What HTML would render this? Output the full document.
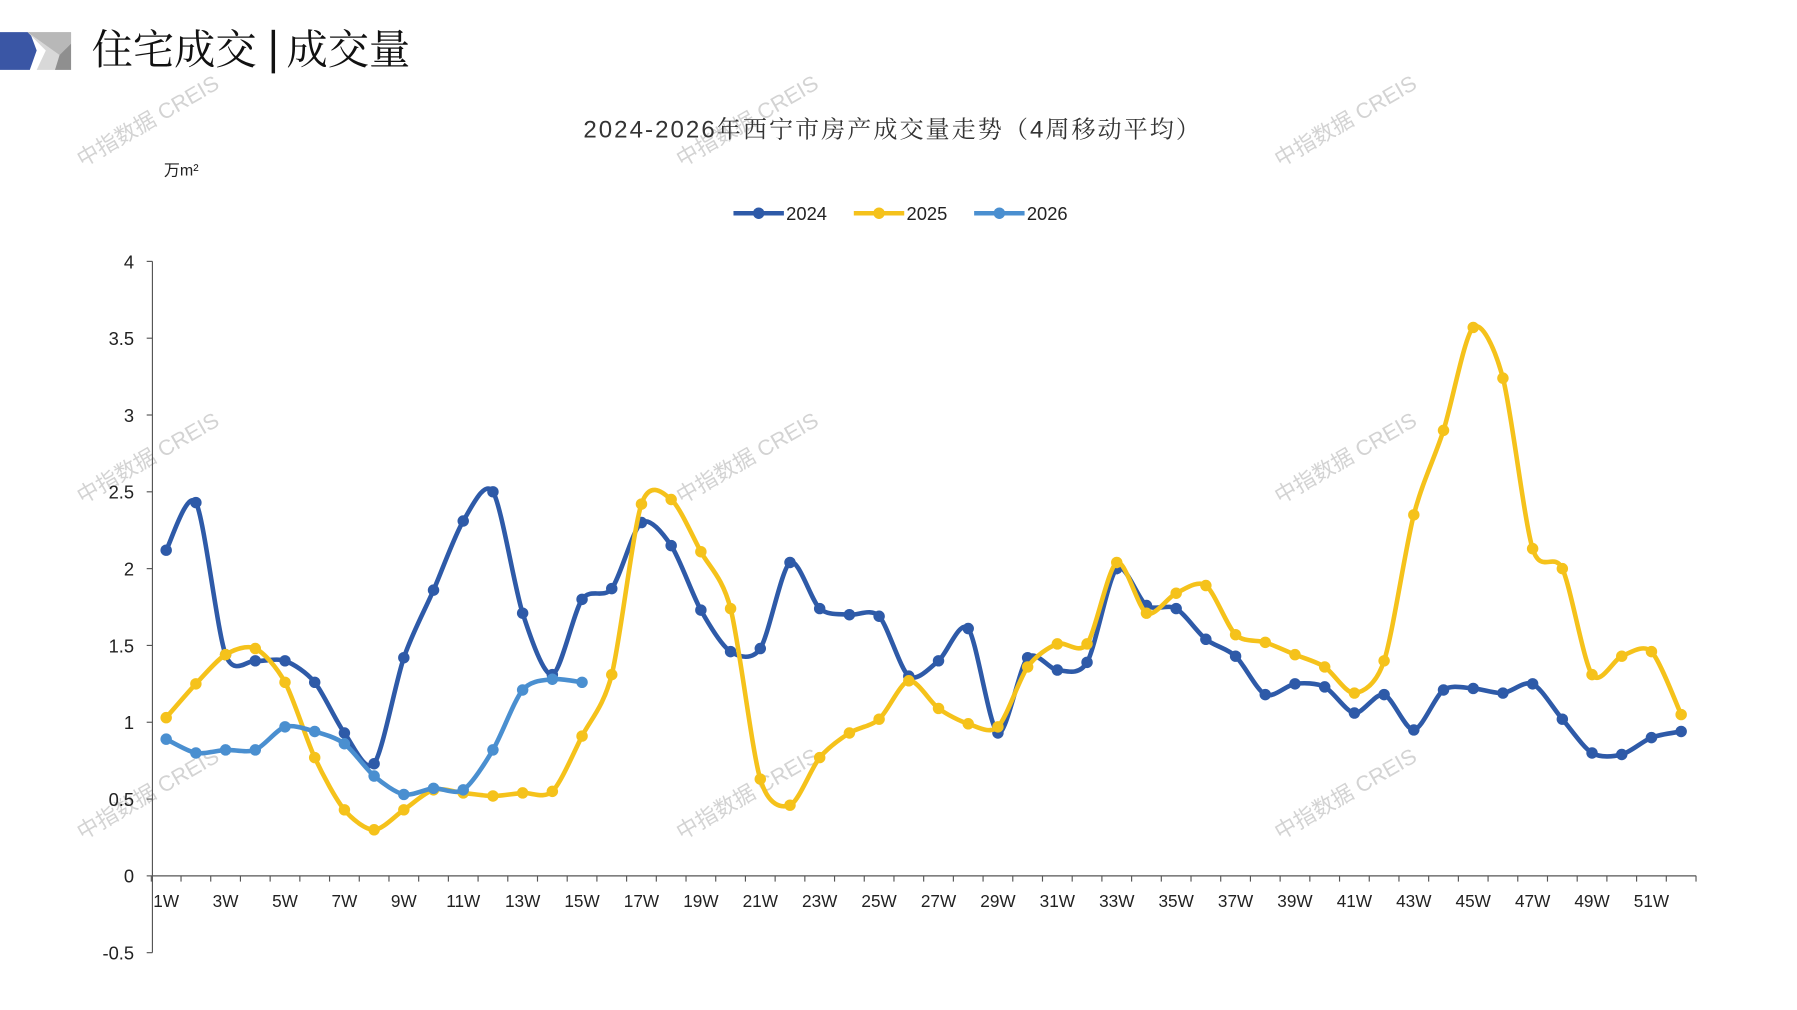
<!DOCTYPE html>
<html><head><meta charset="utf-8"><style>
html,body{margin:0;padding:0;background:#fff;}
svg{display:block;}
</style></head><body>
<svg id="s" width="1797" height="1010" viewBox="0 0 1568 881" preserveAspectRatio="none" xmlns="http://www.w3.org/2000/svg" font-family="'Liberation Sans','Noto Sans CJK SC',sans-serif">
<rect width="1568" height="881" fill="#fff"/>
<polygon points="0,28 26,28 32,44 26,61 0,61" fill="#3a56a5"/>
<polygon points="24,28 62,28 62,61 32,61 40,44" fill="#d8d8d8"/>
<polygon points="24,28 62,28 62,38 52,48" fill="#b8b8b8"/>
<polygon points="62,38 62,61 48,61 52,48" fill="#8f8f8f"/>
<text x="80" y="56" font-size="36" font-family="'Noto Serif CJK SC',serif" fill="#111">住宅成交</text>
<rect x="237" y="26" width="3" height="38" fill="#111"/>
<text x="250" y="56" font-size="36" font-family="'Noto Serif CJK SC',serif" fill="#111">成交量</text>
<g fill="#c8c8c8" font-size="19" opacity="0.8">
<text transform="translate(72,146) rotate(-30)">中指数据 CREIS</text>
<text transform="translate(595,146) rotate(-30)">中指数据 CREIS</text>
<text transform="translate(1117,146) rotate(-30)">中指数据 CREIS</text>
<text transform="translate(72,440) rotate(-30)">中指数据 CREIS</text>
<text transform="translate(595,440) rotate(-30)">中指数据 CREIS</text>
<text transform="translate(1117,440) rotate(-30)">中指数据 CREIS</text>
<text transform="translate(72,733) rotate(-30)">中指数据 CREIS</text>
<text transform="translate(595,733) rotate(-30)">中指数据 CREIS</text>
<text transform="translate(1117,733) rotate(-30)">中指数据 CREIS</text>
</g>
<text x="778" y="120" font-size="21" text-anchor="middle" fill="#333" textLength="538" font-family="'Liberation Sans','Noto Serif CJK SC',serif">2024-2026年西宁市房产成交量走势（4周移动平均）</text>
<text x="143" y="153" font-size="14" fill="#222">万m²</text>
<g font-size="16" fill="#222">
<line x1="640" y1="186" x2="684" y2="186" stroke="#2e5aa8" stroke-width="4"/><circle cx="662" cy="186" r="5" fill="#2e5aa8"/><text x="686" y="192">2024</text>
<line x1="745" y1="186" x2="789" y2="186" stroke="#f5c21b" stroke-width="4"/><circle cx="767" cy="186" r="5" fill="#f5c21b"/><text x="791" y="192">2025</text>
<line x1="850" y1="186" x2="894" y2="186" stroke="#4a8fd0" stroke-width="4"/><circle cx="872" cy="186" r="5" fill="#4a8fd0"/><text x="896" y="192">2026</text>
</g>
<g id="ax" stroke="#555" stroke-width="1" fill="#222" font-size="16"></g>
<g id="series"></g>
</svg>
<script>
var ns="http://www.w3.org/2000/svg";
function Y(v){return 764-134*v;}
function X(i){return 145+25.92*(i-1);}
var ax=document.getElementById('ax');
function el(t,a,p,txt){var e=document.createElementNS(ns,t);for(var k in a)e.setAttribute(k,a[k]);if(txt!=null)e.textContent=txt;(p||ax).appendChild(e);return e;}
el('line',{x1:133,y1:228,x2:133,y2:831});
el('line',{x1:133,y1:764,x2:1480,y2:764});
var yl=[[4,'4'],[3.5,'3.5'],[3,'3'],[2.5,'2.5'],[2,'2'],[1.5,'1.5'],[1,'1'],[0.5,'0.5'],[0,'0'],[-0.5,'-0.5']];
yl.forEach(function(p){var y=Y(p[0]);el('line',{x1:128,y1:y,x2:133,y2:y});el('text',{x:117,y:y+6,'text-anchor':'end',stroke:'none'},ax,p[1]);});
for(var i=0;i<=52;i++){var x=X(i)+12.96;el('line',{x1:x,y1:764,x2:x,y2:769});}
for(var i=1;i<=51;i+=2){el('text',{x:X(i),y:791,'text-anchor':'middle',stroke:'none','font-size':15},ax,i+'W');}
var d24=[2.12,2.43,1.44,1.40,1.40,1.26,0.93,0.73,1.42,1.86,2.31,2.50,1.71,1.31,1.80,1.87,2.30,2.15,1.73,1.46,1.48,2.04,1.74,1.70,1.69,1.30,1.40,1.61,0.93,1.42,1.34,1.39,2.00,1.76,1.74,1.54,1.43,1.18,1.25,1.23,1.06,1.18,0.95,1.21,1.22,1.19,1.25,1.02,0.80,0.79,0.90,0.94];
var d25=[1.03,1.25,1.44,1.48,1.26,0.77,0.43,0.30,0.43,0.56,0.54,0.52,0.54,0.55,0.91,1.31,2.42,2.45,2.11,1.74,0.63,0.46,0.77,0.93,1.02,1.27,1.09,0.99,0.97,1.36,1.51,1.51,2.04,1.71,1.84,1.89,1.57,1.52,1.44,1.36,1.19,1.40,2.35,2.90,3.57,3.24,2.13,2.00,1.31,1.43,1.46,1.05];
var d26=[0.89,0.80,0.82,0.82,0.97,0.94,0.86,0.65,0.53,0.57,0.56,0.82,1.21,1.28,1.26];
var sg=document.getElementById('series');
function draw(d,c){var p=d.map(function(v,i){return [X(i+1),Y(v)];});
var s='M'+p[0][0]+','+p[0][1];var t=0.14;
for(var i=0;i<p.length-1;i++){var p0=p[i-1]||p[i],p1=p[i],p2=p[i+1],p3=p[i+2]||p2;
s+=' C'+(p1[0]+(p2[0]-p0[0])*t)+','+(p1[1]+(p2[1]-p0[1])*t)+' '+(p2[0]-(p3[0]-p1[0])*t)+','+(p2[1]-(p3[1]-p1[1])*t)+' '+p2[0]+','+p2[1];}
el('path',{d:s,fill:'none',stroke:c,'stroke-width':4,'stroke-linejoin':'round'},sg);
p.forEach(function(q){el('circle',{cx:q[0],cy:q[1],r:5,fill:c},sg);});}
draw(d24,'#2e5aa8');draw(d25,'#f5c21b');draw(d26,'#4a8fd0');
</script>
</body></html>
